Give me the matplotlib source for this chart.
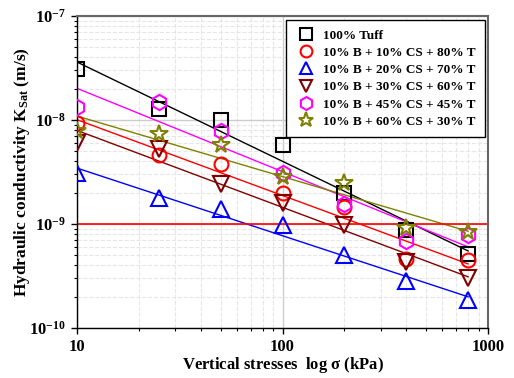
import matplotlib
matplotlib.use("Agg")
import matplotlib.pyplot as plt
from matplotlib.ticker import LogLocator, NullFormatter
import numpy as np

plt.rcParams['font.family'] = ['Liberation Serif', 'DejaVu Serif']
plt.rcParams['font.weight'] = 'bold'
plt.rcParams['mathtext.fontset'] = 'custom'
plt.rcParams['mathtext.rm'] = 'Liberation Serif:bold'
plt.rcParams['mathtext.it'] = 'Liberation Serif:bold'
plt.rcParams['mathtext.bf'] = 'Liberation Serif:bold'

# vertical stress (kPa)
stress = [10, 25, 50, 100, 200, 400, 800]

# hydraulic conductivity (m/s)
k_tuff = [3.1e-8, 1.27e-8, 1.0e-8, 5.7e-9, 2.0e-9, 8.8e-10, 5.2e-10]
k_cs10 = [9.3e-9, 4.6e-9, 3.8e-9, 2.0e-9, 1.45e-9, 4.6e-10, 4.5e-10]
k_cs20 = [3.06e-9, 1.76e-9, 1.38e-9, 9.7e-10, 5.0e-10, 2.8e-10, 1.86e-10]
k_cs30 = [6.0e-9, 5.3e-9, 2.45e-9, 1.6e-9, 9.7e-10, 4.3e-10, 3.0e-10]
k_cs45 = [1.32e-8, 1.48e-8, 7.8e-9, 3.1e-9, 1.57e-9, 6.9e-10, 7.8e-10]
k_cs60 = [7.9e-9, 7.4e-9, 5.7e-9, 2.85e-9, 2.46e-9, 9.1e-10, 8.3e-10]

labels = ["100% Tuff",
          "10% B + 10% CS + 80% T",
          "10% B + 20% CS + 70% T",
          "10% B + 30% CS + 60% T",
          "10% B + 45% CS + 45% T",
          "10% B + 60% CS + 30% T"]
series = [k_tuff, k_cs10, k_cs20, k_cs30, k_cs45, k_cs60]
colors = ["black", "red", "blue", "#800000", "magenta", "#808000"]
markers = ["s", "o", "^", "v", "h", "*"]
sizes = [10, 10, 11, 11, 11, 13]

fig = plt.figure(figsize=(5.14, 3.78), dpi=100)
ax = fig.add_axes([77 / 514, 1 - 328 / 378, 411 / 514, 312 / 378])

x = np.array(stress, dtype=float)
for k, c, m, s, lab in zip(series, colors, markers, sizes, labels):
    y = np.array(k)
    # power-law trend line
    p = np.polyfit(np.log10(x), np.log10(y), 1)
    xf = np.array([10, 800])
    ax.plot(xf, 10 ** np.polyval(p, np.log10(xf)), color=c, lw=1.0, zorder=2)
    ax.plot(x, y, linestyle='none', marker=m, ms=s, mfc='none', mec=c,
            mew=1.5, label=lab, zorder=3)

ax.axhline(1e-9, color='red', lw=1.2, zorder=2)

ax.set_xscale('log')
ax.set_yscale('log')
ax.set_xlim(10, 1000)
ax.set_ylim(1e-10, 1e-7)

ax.grid(True, which='minor', color='#e6e6e6', ls='--', lw=0.8, zorder=0)
ax.grid(True, which='major', color='#cccccc', ls='-', lw=1.0, zorder=0)
ax.set_axisbelow(True)

ax.yaxis.set_minor_locator(LogLocator(base=10, subs=np.arange(2, 10), numticks=20))
ax.yaxis.set_minor_formatter(NullFormatter())
ax.xaxis.set_minor_formatter(NullFormatter())
ax.set_xticks([10, 100, 1000])
ax.set_xticklabels(["10", "100", "1000"])

ax.tick_params(which='major', direction='out', length=4, width=1, labelsize=12, pad=4)
ax.tick_params(which='minor', direction='out', length=2.5, width=0.8)
for side in ['top', 'right']:
    ax.spines[side].set_color('#666666')
    ax.spines[side].set_linewidth(1.5)
for side in ['left', 'bottom']:
    ax.spines[side].set_color('black')
    ax.spines[side].set_linewidth(1.0)

ax.set_xlabel(r"Vertical stresses  log $\mathregular{\sigma}$ (kPa)", fontsize=12,
              fontweight='bold', labelpad=0)
ax.set_ylabel(r"Hydraulic conductivity K$_{\mathregular{Sat}}$ (m/s)", fontsize=12.5,
              fontweight='bold', labelpad=-2)

leg = ax.legend(loc='upper right', fontsize=9.5, frameon=True, fancybox=False,
                edgecolor='black', framealpha=1, handletextpad=0.5,
                handlelength=1.6, labelspacing=0.38, borderpad=0.7,
                markerscale=0.85, borderaxespad=0,
                bbox_to_anchor=(0.993, 0.987))
leg.get_frame().set_linewidth(1.0)

fig.savefig("out.png", dpi=100)
